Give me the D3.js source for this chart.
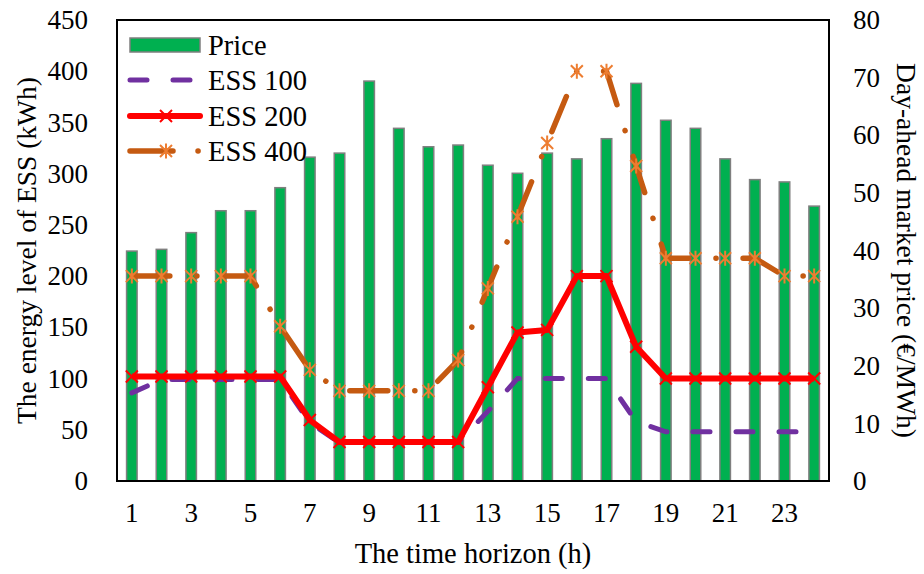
<!DOCTYPE html>
<html>
<head>
<meta charset="utf-8">
<script src="https://cdn.jsdelivr.net/npm/d3@7/dist/d3.min.js"></script>
<style>
  html, body { margin: 0; padding: 0; background: #fff; }
  svg { display: block; }
  text { font-family: "Liberation Serif", "Times New Roman", serif; fill: #000; }
</style>
</head>
<body>
<svg id="chart" width="924" height="574"></svg>
<script>
// Hours of the scheduling horizon
const hours = d3.range(1, 25);
const hourTicks = [1, 3, 5, 7, 9, 11, 13, 15, 17, 19, 21, 23];

// Day-ahead market price (€/MWh), right axis
const price = [39.9, 40.2, 43.1, 46.9, 46.9, 50.9, 56.2, 56.9, 69.4, 61.2, 58.0, 58.3,
               54.8, 53.4, 56.9, 55.9, 59.4, 69.0, 62.6, 61.2, 55.9, 52.3, 51.9, 47.7];

// Energy level of the storage (kWh), left axis
const ess100 = [86, 99, 99, 99, 99, 99, 57, 37.5, 37.5, 37.5, 37.5, 37.5,
                68, 100, 100, 100, 100, 58, 48, 48, 48, 48, 48, 48];
const ess200 = [102, 102, 102, 102, 102, 102, 59.5, 38, 38, 38, 38, 38,
                91.5, 145, 147.5, 200, 200, 131, 100, 100, 100, 100, 100, 100];
const ess400 = [200, 200, 200, 200, 200, 151, 108.5, 88, 88, 88, 88, 118,
                188, 258, 330, 400, 400, 307.5, 217.5, 217.5, 217.5, 217.5, 200, 200];

const leftTicks = d3.range(0, 451, 50);
const rightTicks = d3.range(0, 81, 10);

const svg = d3.select("#chart");
const plot = { left: 117, right: 829, top: 20, bottom: 481 };

const x = d3.scaleBand().domain(hours).range([plot.left, plot.right]).padding(0);
const xBar = d3.scaleBand().domain(hours).range([plot.left, plot.right])
  .paddingInner(0.645).paddingOuter(0.3225);
const cx = h => x(h) + x.bandwidth() / 2;
const yL = d3.scaleLinear().domain([0, 450]).range([plot.bottom, plot.top]);
const yR = d3.scaleLinear().domain([0, 80]).range([plot.bottom, plot.top]);

const C = {
  green: "#00B050", barStroke: "#7F7F7F",
  purple: "#7030A0", red: "#FF0000",
  orange: "#C55A11", orangeMark: "#ED7D31"
};

// Price bars
svg.append("g").selectAll("rect").data(hours).join("rect")
  .attr("x", h => xBar(h))
  .attr("y", (h, i) => yR(price[i]))
  .attr("width", xBar.bandwidth())
  .attr("height", (h, i) => yR(0) - yR(price[i]))
  .attr("fill", C.green)
  .attr("stroke", C.barStroke)
  .attr("stroke-width", 1.5);

const lineGen = vals => d3.line().x((d, i) => cx(hours[i])).y(d => yL(d))(vals);

// ESS 100: dashed purple
svg.append("path").attr("d", lineGen(ess100))
  .attr("fill", "none").attr("stroke", C.purple).attr("stroke-width", 5)
  .attr("stroke-linecap", "round").attr("stroke-dasharray", "17,26");

// ESS 200: solid red with x markers
svg.append("path").attr("d", lineGen(ess200))
  .attr("fill", "none").attr("stroke", C.red).attr("stroke-width", 6)
  .attr("stroke-linejoin", "round");

function xMark(g, px, py, color, s) {
  g.append("path")
    .attr("d", `M${px - s},${py - s}L${px + s},${py + s}M${px - s},${py + s}L${px + s},${py - s}`)
    .attr("stroke", color).attr("stroke-width", 2).attr("fill", "none");
}
function starMark(g, px, py, color, s) {
  g.append("path")
    .attr("d", `M${px - s},${py - s}L${px + s},${py + s}M${px - s},${py + s}L${px + s},${py - s}M${px},${py - s - 1.5}L${px},${py + s + 1.5}`)
    .attr("stroke", color).attr("stroke-width", 2).attr("fill", "none");
}

const m200 = svg.append("g");
ess200.forEach((v, i) => xMark(m200, cx(hours[i]), yL(v), C.red, 6));

// ESS 400: long dash-dot orange with asterisk markers
svg.append("path").attr("d", lineGen(ess400))
  .attr("fill", "none").attr("stroke", C.orange).attr("stroke-width", 5.5)
  .attr("stroke-linecap", "round").attr("stroke-dasharray", "38,27,0.1,27");
const m400 = svg.append("g");
ess400.forEach((v, i) => starMark(m400, cx(hours[i]), yL(v), C.orangeMark, 6));

// Plot frame
svg.append("rect")
  .attr("x", plot.left).attr("y", plot.top)
  .attr("width", plot.right - plot.left).attr("height", plot.bottom - plot.top)
  .attr("fill", "none").attr("stroke", "#000").attr("stroke-width", 2);

// Axes
const fs = "27px";
const gx = svg.append("g").attr("transform", `translate(0,${plot.bottom})`)
  .call(d3.axisBottom(x).tickValues(hourTicks).tickSize(0).tickPadding(22));
const gl = svg.append("g").attr("transform", `translate(${plot.left},0)`)
  .call(d3.axisLeft(yL).tickValues(leftTicks).tickSize(0).tickPadding(29));
const gr = svg.append("g").attr("transform", `translate(${plot.right},0)`)
  .call(d3.axisRight(yR).tickValues(rightTicks).tickSize(0).tickPadding(24));
[gx, gl, gr].forEach(g => {
  g.select(".domain").remove();
  g.selectAll("text").style("font-size", fs)
    .style("font-family", '"Liberation Serif", "Times New Roman", serif').attr("fill", "#000");
});

// Axis titles
svg.append("text").attr("x", 473).attr("y", 563)
  .attr("text-anchor", "middle").style("font-size", "28.5px").text("The time horizon (h)");
svg.append("text").attr("transform", `translate(36,${(plot.top + plot.bottom) / 2}) rotate(-90)`)
  .attr("text-anchor", "middle").style("font-size", "27.5px").text("The energy level of ESS (kWh)");
svg.append("text").attr("transform", `translate(897,${(plot.top + plot.bottom) / 2}) rotate(90)`)
  .attr("text-anchor", "middle").style("font-size", "27.5px").text("Day-ahead market price (€/MWh)");

// Legend
const lg = svg.append("g");
const rows = [45, 80, 116, 151];
const labels = ["Price", "ESS 100", "ESS 200", "ESS 400"];
lg.append("rect").attr("x", 130).attr("y", rows[0] - 7).attr("width", 70).attr("height", 14)
  .attr("fill", C.green).attr("stroke", C.barStroke).attr("stroke-width", 1.5);
lg.append("path").attr("d", `M130,${rows[1]}L200,${rows[1]}`)
  .attr("stroke", C.purple).attr("stroke-width", 5).attr("stroke-linecap", "round")
  .attr("stroke-dasharray", "17,26");
lg.append("path").attr("d", `M130,${rows[2]}L200,${rows[2]}`)
  .attr("stroke", C.red).attr("stroke-width", 6).attr("stroke-linecap", "round");
xMark(lg, 166, rows[2], C.red, 6);
lg.append("path").attr("d", `M130,${rows[3]}L200,${rows[3]}`)
  .attr("stroke", C.orange).attr("stroke-width", 5.5).attr("stroke-linecap", "round")
  .attr("stroke-dasharray", "43,25,0.1,25");
starMark(lg, 166, rows[3], C.orangeMark, 6);
labels.forEach((t, i) => {
  lg.append("text").attr("x", 208).attr("y", rows[i]).attr("dy", "0.34em")
    .style("font-size", "28.5px").text(t);
});
</script>
</body>
</html>
